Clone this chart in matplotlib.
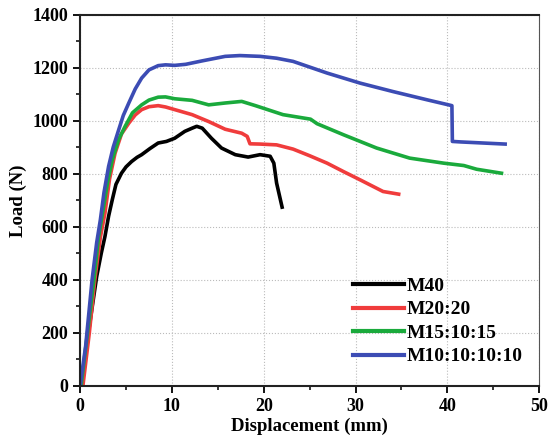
import matplotlib.pyplot as plt
from matplotlib.ticker import MultipleLocator

# load-displacement curves
m40_x = [0.2, 0.9, 1.8, 2.3, 2.7, 3.1, 3.5, 3.9, 4.5, 5.0, 5.6, 6.2, 6.7, 7.6, 8.5, 9.4, 10.3, 11.4, 12.2, 12.7, 13.3, 14.3, 15.4, 16.9, 18.3, 19.6, 20.7, 21.1, 21.4, 22.0]
m40_y = [0, 200, 412, 500, 563, 640, 702, 760, 802, 826, 846, 862, 872, 895, 916, 922, 934, 960, 972, 979, 972, 934, 897, 872, 863, 872, 866, 840, 765, 674]

m20_x = [0.3, 1.0, 1.6, 2.2, 2.7, 3.2, 3.8, 4.5, 5.3, 6.0, 6.7, 7.5, 8.5, 9.3, 10.3, 12.2, 14.0, 15.8, 17.6, 18.2, 18.5, 19.6, 21.4, 23.2, 25.0, 26.9, 28.7, 30.5, 33.0, 34.7]
m20_y = [0, 200, 400, 560, 651, 780, 877, 950, 991, 1022, 1042, 1053, 1057, 1052, 1042, 1023, 997, 968, 953, 941, 913, 912, 909, 893, 868, 840, 808, 777, 733, 723]

m15_x = [0.1, 0.8, 1.5, 2.0, 2.5, 3.0, 3.5, 4.2, 4.9, 5.7, 6.7, 7.5, 8.5, 9.3, 10.3, 12.2, 14.0, 15.8, 17.6, 19.1, 20.6, 22.1, 25.1, 25.8, 28.7, 32.3, 35.9, 39.6, 41.8, 43.2, 45.9]
m15_y = [0, 200, 400, 560, 664, 770, 853, 930, 979, 1030, 1060, 1078, 1089, 1090, 1083, 1077, 1060, 1067, 1073, 1057, 1040, 1023, 1006, 989, 947, 897, 859, 840, 831, 817, 802]

m10_x = [0.0, 0.6, 1.3, 1.8, 2.2, 2.6, 3.1, 3.6, 4.2, 4.7, 5.3, 6.0, 6.7, 7.5, 8.5, 9.3, 10.3, 11.5, 13.3, 15.8, 17.4, 19.6, 21.4, 23.2, 26.9, 30.5, 34.1, 37.8, 40.5, 40.55, 41.5, 46.3]
m10_y = [0, 150, 400, 540, 626, 730, 828, 900, 966, 1020, 1067, 1120, 1161, 1192, 1208, 1211, 1209, 1213, 1226, 1243, 1246, 1243, 1236, 1224, 1180, 1142, 1110, 1079, 1057, 922, 920, 912]

labels = ['M40', 'M20:20', 'M15:10:15', 'M10:10:10:10']
colors = ['#000000', '#f03c3c', '#1aaa3c', '#3c4cb4']

plt.rcParams['font.family'] = 'Liberation Serif'
plt.rcParams['font.weight'] = 'bold'

fig = plt.figure(figsize=(5.49, 4.47), dpi=100)
ax = fig.add_axes([0.146, 0.137, 0.836, 0.83])

series = [(m40_x, m40_y), (m20_x, m20_y), (m15_x, m15_y), (m10_x, m10_y)]
for (xs, ys), lab, col in zip(series, labels, colors):
    ax.plot(xs, ys, color=col, lw=2.6, label=lab, solid_joinstyle='round')

ax.set_xlim(0, 50)
ax.set_ylim(0, 1400)
ax.xaxis.set_major_locator(MultipleLocator(10))
ax.xaxis.set_minor_locator(MultipleLocator(5))
ax.yaxis.set_major_locator(MultipleLocator(200))
ax.yaxis.set_minor_locator(MultipleLocator(100))
ax.tick_params(which='major', direction='out', length=5, width=1.3, labelsize=13)
ax.tick_params(which='minor', direction='out', length=3, width=1.1)
ax.grid(True, which='major', ls=':', color='#bbbbbb', lw=0.8)

for s in ['left', 'bottom', 'top']:
    ax.spines[s].set_linewidth(1.5)
    ax.spines[s].set_color('#222222')
ax.spines['right'].set_color('#555555')

ax.set_xlabel('Displacement (mm)', fontsize=13.5, fontweight='bold', labelpad=2)
ax.set_ylabel('Load (N)', fontsize=13.5, fontweight='bold', labelpad=4)

leg = ax.legend(loc='lower left', bbox_to_anchor=(0.595, 0.055), frameon=False,
                borderpad=0, borderaxespad=0,
                fontsize=14, handlelength=2.6, handletextpad=0.15, labelspacing=0.3)
for line in leg.get_lines():
    line.set_linewidth(3)

fig.savefig('out.png', dpi=100)
